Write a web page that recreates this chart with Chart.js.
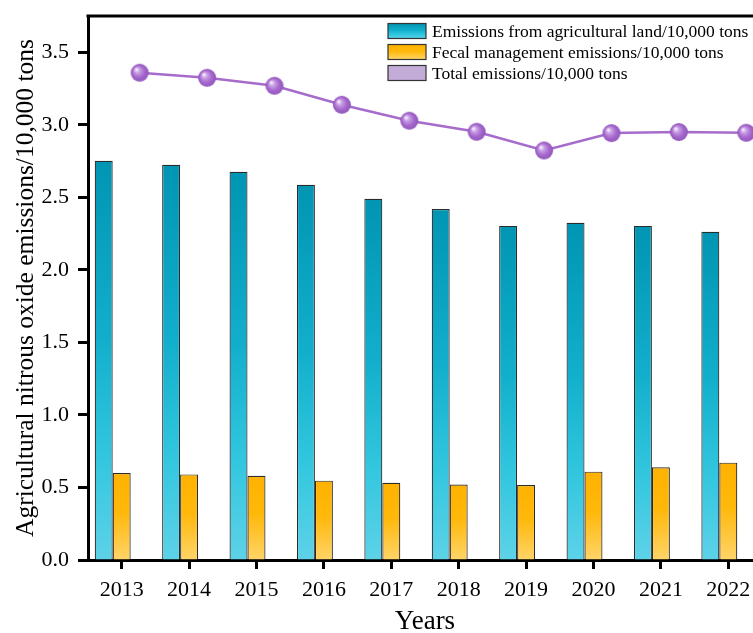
<!DOCTYPE html>
<html>
<head>
<meta charset="utf-8">
<script src="https://cdn.jsdelivr.net/npm/chart.js@4.4.1/dist/chart.umd.min.js"></script>
<style>
  html, body { margin: 0; padding: 0; background: #fff; overflow: hidden; }
  #wrap { width: 753px; height: 633px; overflow: hidden; }
</style>
</head>
<body>
<div id="wrap"><canvas id="chart" width="790" height="640"></canvas></div>
<script>
const years = ['2013', '2014', '2015', '2016', '2017', '2018', '2019', '2020', '2021', '2022'];
const landEmissions = [2.752, 2.724, 2.676, 2.586, 2.49, 2.42, 2.303, 2.324, 2.303, 2.262];
const fecalEmissions = [0.60, 0.59, 0.58, 0.547, 0.532, 0.52, 0.517, 0.609, 0.639, 0.671];
const totalEmissions = [3.359, 3.324, 3.269, 3.138, 3.028, 2.952, 2.823, 2.943, 2.95, 2.945];
const yTicks = [0, 0.5, 1, 1.5, 2, 2.5, 3, 3.5];

const seriesNames = [
  'Emissions from agricultural land/10,000 tons',
  'Fecal management emissions/10,000 tons',
  'Total emissions/10,000 tons'
];

const FONT = '"Liberation Serif", "Times New Roman", serif';
const blueStops = [[0, '#0095b3'], [0.45, '#12afcc'], [0.75, '#33c7df'], [1, '#5dd2e8']];
const orangeStops = [[0, '#ffb200'], [0.45, '#ffb80a'], [1, '#ffd468']];

// gradient running from the top of each bar down to zero
function barFill(stops) {
  return ctx => {
    const chart = ctx.chart;
    if (!chart.chartArea || ctx.type !== 'data') return stops[0][1];
    const y = chart.scales.y;
    const top = y.getPixelForValue(ctx.raw);
    const bottom = y.getPixelForValue(0);
    const g = chart.ctx.createLinearGradient(0, top, 0, bottom);
    stops.forEach(([o, c]) => g.addColorStop(o, c));
    return g;
  };
}

// shaded ball used as the line marker
function makeBall(r) {
  const c = document.createElement('canvas');
  c.width = c.height = r * 2 + 2;
  const g = c.getContext('2d');
  const cx = r + 1, cy = r + 1;
  const grad = g.createRadialGradient(cx - r * 0.38, cy - r * 0.38, r * 0.05, cx, cy, r);
  grad.addColorStop(0, '#f7f0fc');
  grad.addColorStop(0.28, '#c89de4');
  grad.addColorStop(0.65, '#a668cd');
  grad.addColorStop(1, '#9055bb');
  g.fillStyle = grad;
  g.beginPath();
  g.arc(cx, cy, r, 0, Math.PI * 2);
  g.fill();
  return c;
}
const ball = makeBall(9);

// the totals line sits in the third (empty) slot of each year group
const lineSlotPlugin = {
  id: 'lineSlot',
  afterDatasetsUpdate(chart) {
    const lineMeta = chart.getDatasetMeta(0);
    const slotMeta = chart.getDatasetMeta(3);
    lineMeta.data.forEach((pt, i) => {
      const slot = slotMeta.data[i];
      if (slot) pt.x = slot.x;
    });
  }
};

// top frame line and the legend inside the plot
const framePlugin = {
  id: 'frame',
  afterDraw(chart) {
    const { ctx, chartArea } = chart;
    ctx.save();
    ctx.strokeStyle = '#000';
    ctx.lineWidth = 3;
    ctx.beginPath();
    ctx.moveTo(chartArea.left - 1.5, chartArea.top);
    ctx.lineTo(chartArea.right + 40, chartArea.top);
    ctx.stroke();

    const boxX = 388, boxW = 38, boxH = 15, textX = 432;
    const rows = [31, 52, 73];
    const fills = [blueStops, orangeStops, null];
    rows.forEach((cy, i) => {
      const top = cy - boxH / 2;
      if (fills[i]) {
        const g = ctx.createLinearGradient(0, top, 0, top + boxH);
        fills[i].forEach(([o, c]) => g.addColorStop(o, c));
        ctx.fillStyle = g;
      } else {
        ctx.fillStyle = '#c3acd8';
      }
      ctx.fillRect(boxX, top, boxW, boxH);
      ctx.lineWidth = 1.2;
      ctx.strokeStyle = '#333';
      ctx.strokeRect(boxX, top, boxW, boxH);
      ctx.fillStyle = '#000';
      ctx.font = '17.5px ' + FONT;
      ctx.textBaseline = 'middle';
      ctx.textAlign = 'left';
      ctx.fillText(seriesNames[i], textX, cy + 1);
    });
    ctx.restore();
  }
};

new Chart(document.getElementById('chart'), {
  data: {
    labels: years,
    datasets: [
      {
        type: 'line',
        label: seriesNames[2],
        data: totalEmissions,
        borderColor: '#a56ccb',
        borderWidth: 2.5,
        pointStyle: ball,
        pointRadius: 9,
        order: 0
      },
      {
        type: 'bar',
        label: seriesNames[0],
        data: landEmissions,
        backgroundColor: barFill(blueStops),
        borderColor: '#2b2b2b',
        borderWidth: 1.2,
        categoryPercentage: 0.8,
        barPercentage: 1,
        order: 1
      },
      {
        type: 'bar',
        label: seriesNames[1],
        data: fecalEmissions,
        backgroundColor: barFill(orangeStops),
        borderColor: '#2b2b2b',
        borderWidth: 1.2,
        categoryPercentage: 0.8,
        barPercentage: 1,
        order: 1
      },
      {
        // empty slot holder so the two bars sit left of the tick
        type: 'bar',
        label: '',
        data: years.map(() => null),
        backgroundColor: 'rgba(0,0,0,0)',
        borderWidth: 0,
        categoryPercentage: 0.8,
        barPercentage: 1,
        order: 2
      }
    ]
  },
  options: {
    responsive: false,
    animation: false,
    layout: { autoPadding: false, padding: { top: 16, right: 28, left: 0, bottom: 0 } },
    plugins: { legend: { display: false }, tooltip: { enabled: false } },
    scales: {
      x: {
        offset: true,
        grid: { display: true, drawOnChartArea: false, offset: false, tickLength: 9, tickWidth: 3, tickColor: '#000' },
        border: { display: true, color: '#000', width: 3 },
        ticks: { color: '#000', font: { family: FONT, size: 22 }, padding: 8, maxRotation: 0 },
        title: { display: true, text: 'Years', color: '#000', font: { family: FONT, size: 27 }, padding: { top: 0, bottom: 2 } },
        afterFit: s => { s.height = 80; }
      },
      y: {
        min: 0,
        max: 3.75,
        afterBuildTicks: s => { s.ticks = yTicks.map(v => ({ value: v })); },
        grid: { display: true, drawOnChartArea: false, tickLength: 10, tickWidth: 3, tickColor: '#000' },
        border: { display: true, color: '#000', width: 3 },
        ticks: { color: '#000', font: { family: FONT, size: 22 }, padding: 9, callback: v => v.toFixed(1) },
        title: { display: true, text: 'Agricultural nitrous oxide emissions/10,000 tons', color: '#000', font: { family: FONT, size: 25.5 }, padding: { top: 11, bottom: 0 } },
        afterFit: s => {
          s.width = 88;
          s.paddingTop = 0;
          s.paddingBottom = 0;
        }
      }
    }
  },
  plugins: [lineSlotPlugin, framePlugin]
});
</script>
</body>
</html>
